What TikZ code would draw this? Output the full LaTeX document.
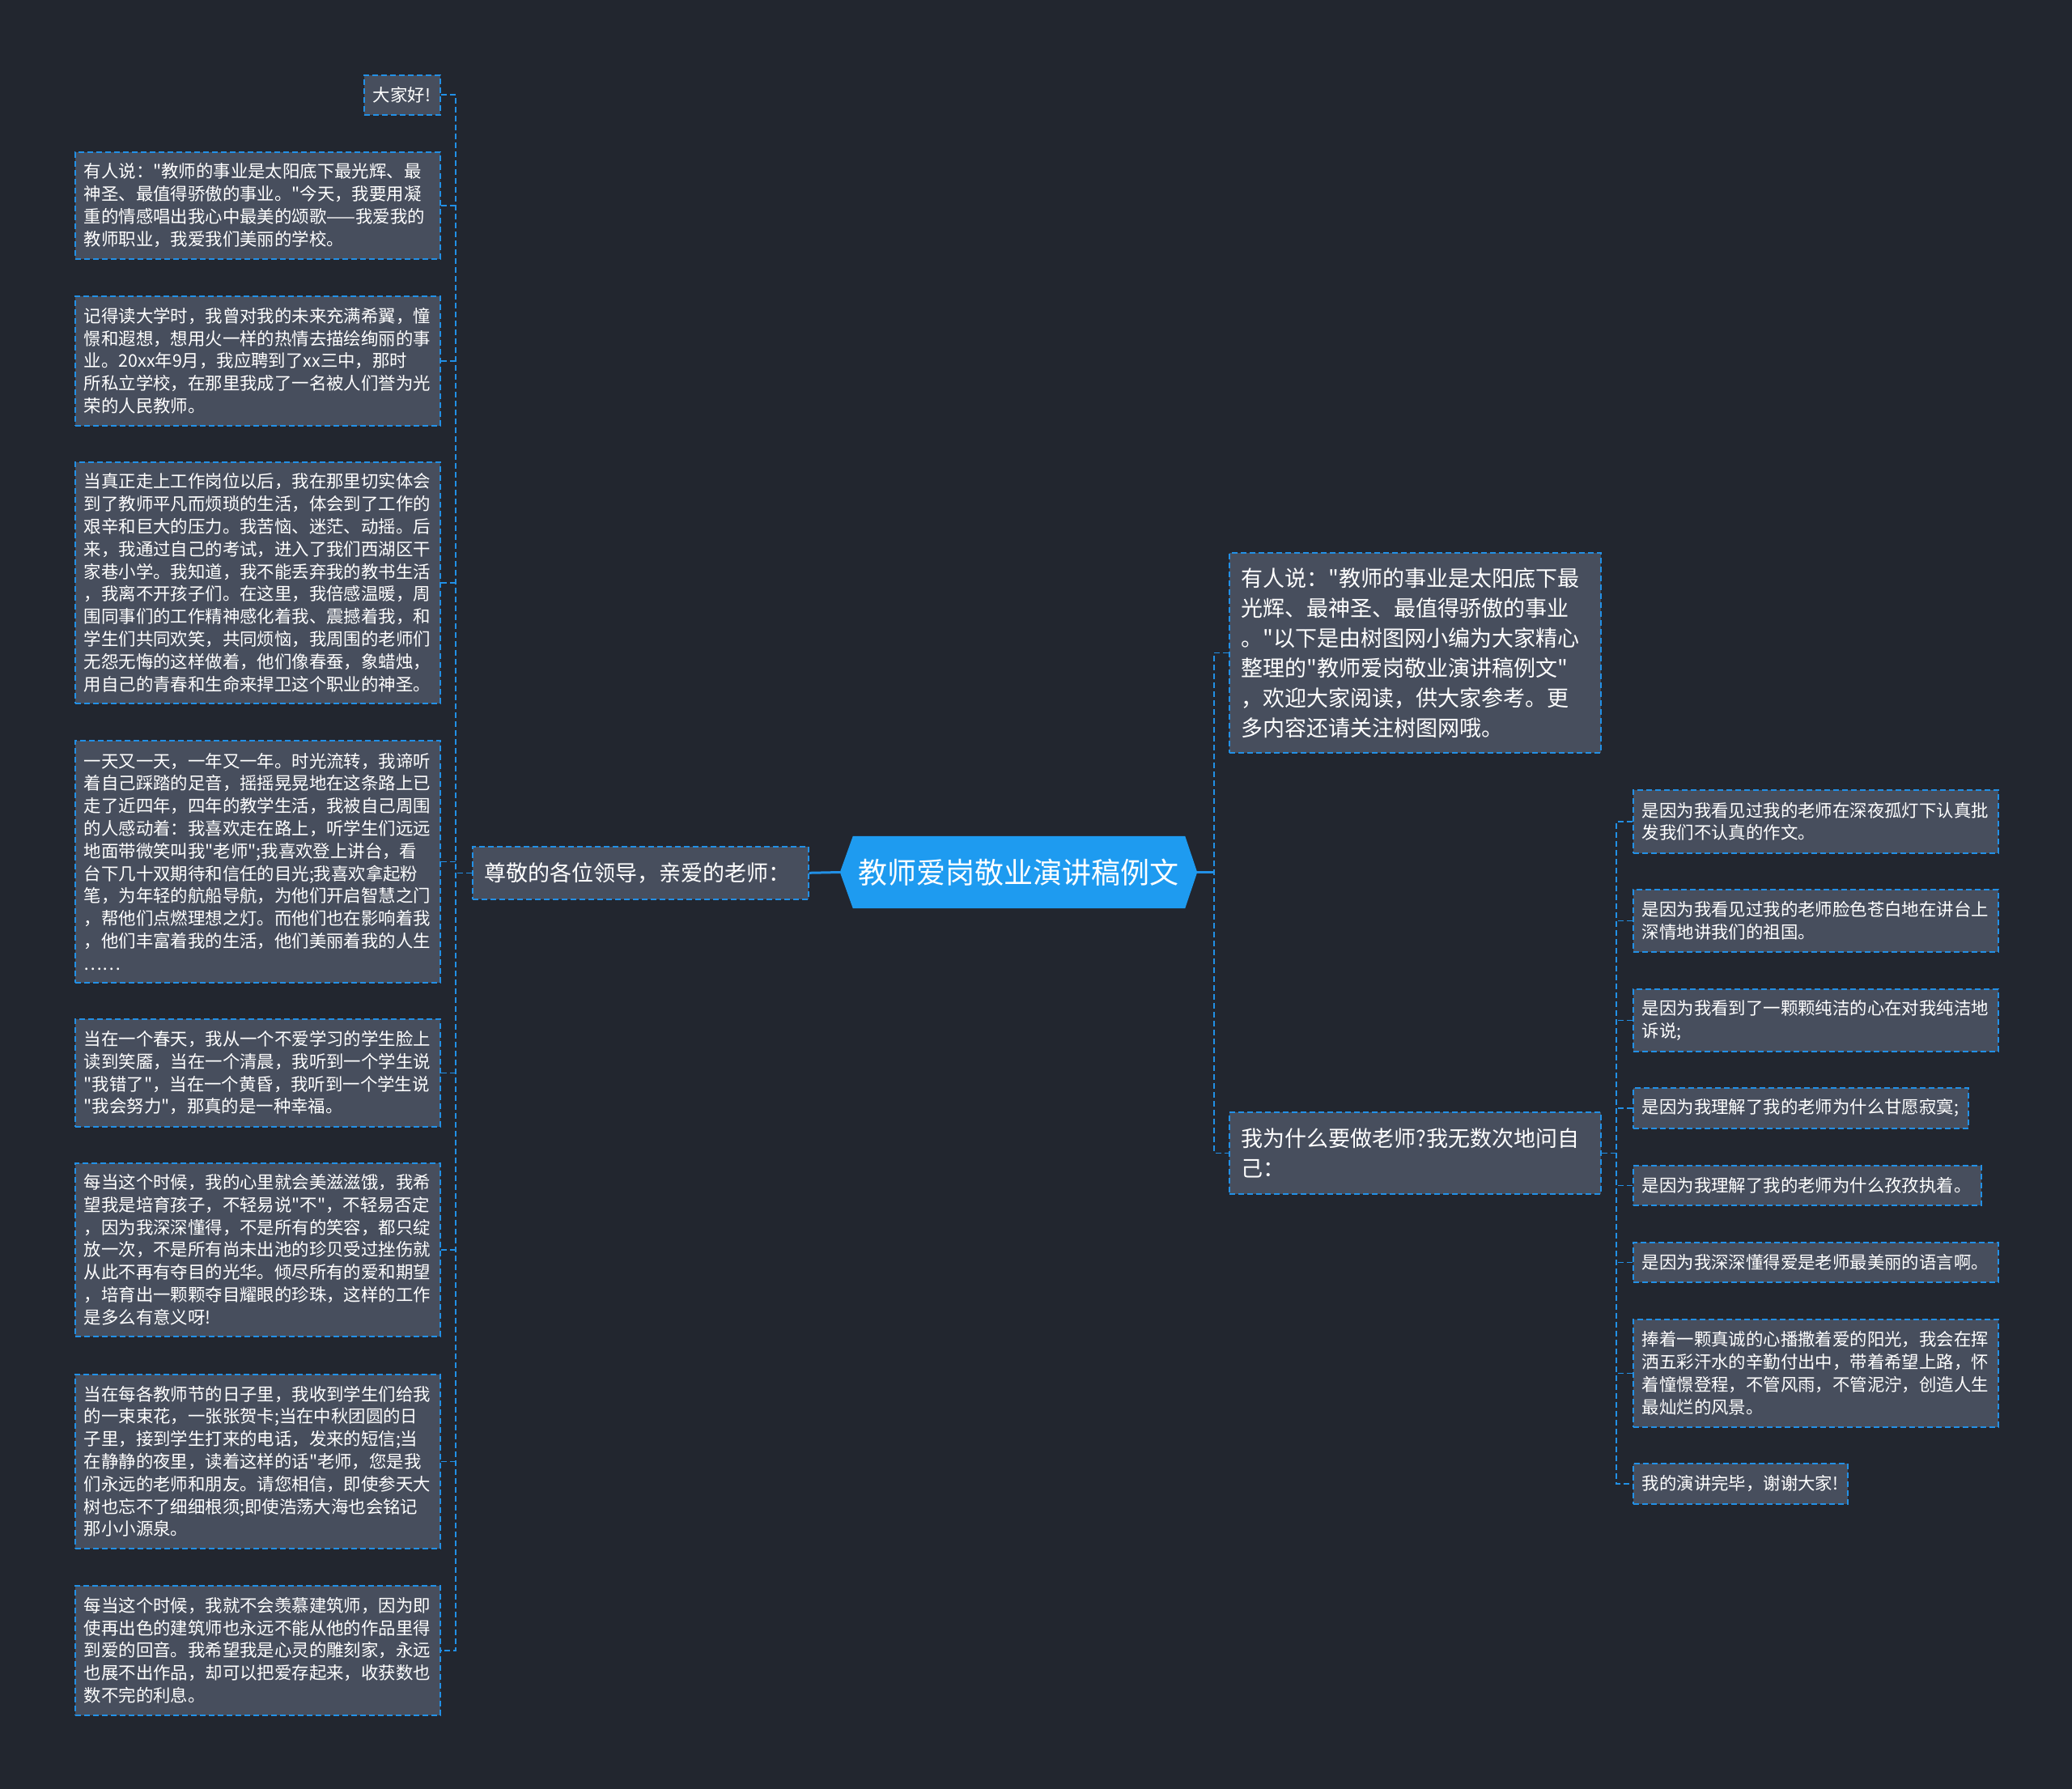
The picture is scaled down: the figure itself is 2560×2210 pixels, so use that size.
\documentclass[tikz,border=0pt]{standalone}
\usepackage{fontspec}
\newfontfamily\cjk{Noto Sans CJK SC}
\usetikzlibrary{backgrounds}
\definecolor{bgc}{HTML}{22262F}
\definecolor{boxc}{HTML}{474E5D}
\definecolor{linec}{HTML}{2290E6}
\definecolor{rootc}{HTML}{1E9BF0}
\begin{document}
\begin{tikzpicture}[x=1pt,y=-1pt,
 leaf/.style={draw=linec, fill=boxc, line width=1.6pt, dash pattern=on 7pt off 4pt, text=white, anchor=north west, align=left, inner xsep=11pt, inner ysep=0pt, font=\cjk\fontsize{21.4}{27.8}\selectfont},
 lvl/.style={leaf, inner xsep=15pt, font=\cjk\fontsize{27}{37}\selectfont},
 conn/.style={draw=linec, line width=1.6pt, dash pattern=on 7pt off 4pt},
 rootline/.style={draw=linec, line width=3pt},
 rootnode/.style={text=white, minimum width=441pt, minimum height=89pt, inner sep=0pt, font=\cjk\fontsize{36}{40}\selectfont}
]
\useasboundingbox (0,0) rectangle (2560,2210);

% left leaves
\node[leaf, text width=72pt, minimum height=49pt] (L1) at (449,92) {大家好!};
\node[leaf, text width=429pt, minimum height=132pt] (L2) at (92,187) {有人说："教师的事业是太阳底下最光辉、最\\神圣、最值得骄傲的事业。"今天，我要用凝\\重的情感唱出我心中最美的颂歌——我爱我的\\教师职业，我爱我们美丽的学校。};
\node[leaf, text width=429pt, minimum height=160pt] (L3) at (92,365) {记得读大学时，我曾对我的未来充满希翼，憧\\憬和遐想，想用火一样的热情去描绘绚丽的事\\业。20xx年9月，我应聘到了xx三中，那时\\所私立学校，在那里我成了一名被人们誉为光\\荣的人民教师。};
\node[leaf, text width=429pt, minimum height=298pt] (L4) at (92,570) {当真正走上工作岗位以后，我在那里切实体会\\到了教师平凡而烦琐的生活，体会到了工作的\\艰辛和巨大的压力。我苦恼、迷茫、动摇。后\\来，我通过自己的考试，进入了我们西湖区干\\家巷小学。我知道，我不能丢弃我的教书生活\\，我离不开孩子们。在这里，我倍感温暖，周\\围同事们的工作精神感化着我、震撼着我，和\\学生们共同欢笑，共同烦恼，我周围的老师们\\无怨无悔的这样做着，他们像春蚕，象蜡烛，\\用自己的青春和生命来捍卫这个职业的神圣。};
\node[leaf, text width=429pt, minimum height=299pt] (L5) at (92,914) {一天又一天，一年又一年。时光流转，我谛听\\着自己踩踏的足音，摇摇晃晃地在这条路上已\\走了近四年，四年的教学生活，我被自己周围\\的人感动着：我喜欢走在路上，听学生们远远\\地面带微笑叫我"老师";我喜欢登上讲台，看\\台下几十双期待和信任的目光;我喜欢拿起粉\\笔，为年轻的航船导航，为他们开启智慧之门\\，帮他们点燃理想之灯。而他们也在影响着我\\，他们丰富着我的生活，他们美丽着我的人生\\……};
\node[leaf, text width=429pt, minimum height=133pt] (L6) at (92,1258) {当在一个春天，我从一个不爱学习的学生脸上\\读到笑靥，当在一个清晨，我听到一个学生说\\"我错了"，当在一个黄昏，我听到一个学生说\\"我会努力"，那真的是一种幸福。};
\node[leaf, text width=429pt, minimum height=214pt] (L7) at (92,1436) {每当这个时候，我的心里就会美滋滋饿，我希\\望我是培育孩子，不轻易说"不"，不轻易否定\\，因为我深深懂得，不是所有的笑容，都只绽\\放一次，不是所有尚未出池的珍贝受过挫伤就\\从此不再有夺目的光华。倾尽所有的爱和期望\\，培育出一颗颗夺目耀眼的珍珠，这样的工作\\是多么有意义呀!};
\node[leaf, text width=429pt, minimum height=215pt] (L8) at (92,1697) {当在每各教师节的日子里，我收到学生们给我\\的一束束花，一张张贺卡;当在中秋团圆的日\\子里，接到学生打来的电话，发来的短信;当\\在静静的夜里，读着这样的话"老师，您是我\\们永远的老师和朋友。请您相信，即使参天大\\树也忘不了细细根须;即使浩荡大海也会铭记\\那小小源泉。};
\node[leaf, text width=429pt, minimum height=160pt] (L9) at (92,1958) {每当这个时候，我就不会羡慕建筑师，因为即\\使再出色的建筑师也永远不能从他的作品里得\\到爱的回音。我希望我是心灵的雕刻家，永远\\也展不出作品，却可以把爱存起来，收获数也\\数不完的利息。};

% branch left
\node[lvl, text width=385pt, minimum height=65pt] (bL) at (583,1045) {尊敬的各位领导，亲爱的老师：};

% root
\node[rootnode] (root) at (1258.5,1077.5) {教师爱岗敬业演讲稿例文};

% right level 1
\node[lvl, text width=429pt, minimum height=247pt] (R1) at (1518,682) {有人说："教师的事业是太阳底下最\\光辉、最神圣、最值得骄傲的事业\\。"以下是由树图网小编为大家精心\\整理的"教师爱岗敬业演讲稿例文"\\，欢迎大家阅读，供大家参考。更\\多内容还请关注树图网哦。};
\node[lvl, text width=429pt, minimum height=101pt] (R2) at (1518,1373) {我为什么要做老师?我无数次地问自\\己：};

% right leaves
\node[leaf, text width=429pt, minimum height=78pt] (C1) at (2017,975) {是因为我看见过我的老师在深夜孤灯下认真批\\发我们不认真的作文。};
\node[leaf, text width=429pt, minimum height=77pt] (C2) at (2017,1098) {是因为我看见过我的老师脸色苍白地在讲台上\\深情地讲我们的祖国。};
\node[leaf, text width=429pt, minimum height=77pt] (C3) at (2017,1221) {是因为我看到了一颗颗纯洁的心在对我纯洁地\\诉说;};
\node[leaf, text width=392pt, minimum height=50pt] (C4) at (2017,1343) {是因为我理解了我的老师为什么甘愿寂寞;};
\node[leaf, text width=408pt, minimum height=49pt] (C5) at (2017,1439) {是因为我理解了我的老师为什么孜孜执着。};
\node[leaf, text width=429pt, minimum height=49pt] (C6) at (2017,1534) {是因为我深深懂得爱是老师最美丽的语言啊。};
\node[leaf, text width=429pt, minimum height=133pt] (C7) at (2017,1629) {捧着一颗真诚的心播撒着爱的阳光，我会在挥\\洒五彩汗水的辛勤付出中，带着希望上路，怀\\着憧憬登程，不管风雨，不管泥泞，创造人生\\最灿烂的风景。};
\node[leaf, text width=243pt, minimum height=50pt] (C8) at (2017,1807) {我的演讲完毕，谢谢大家!};

% trunks
\coordinate (lx) at (563,0);
\coordinate (rx) at (1500,0);
\coordinate (cx) at (1997,0);

% left connectors
\draw[conn] (L1.east) -- (L1.east -| lx) -- (L9.east -| lx) -- (L9.east);
\foreach \k in {L2,L3,L4,L5,L6,L7,L8} {\draw[conn] (\k.east) -- (\k.east -| lx);}
\draw[conn] (bL.west) -- (bL.west -| lx);
\draw[rootline] (root.west) -- (bL.east);

% right connectors
\draw[rootline] (root.east) -- (root.east -| rx);
\draw[conn] (R1.west) -- (R1.west -| rx) -- (R2.west -| rx) -- (R2.west);
\draw[conn] (R2.east) -- (R2.east -| cx);
\draw[conn] (C1.west) -- (C1.west -| cx) -- (C8.west -| cx) -- (C8.west);
\foreach \k in {C2,C3,C4,C5,C6,C7} {\draw[conn] (\k.west) -- (\k.west -| cx);}

\begin{scope}[on background layer]
\fill[bgc] (0,0) rectangle (2560,2210);
\fill[rootc] (root.west) -- ([xshift=16pt]root.north west) -- ([xshift=-15pt]root.north east) -- (root.east) -- ([xshift=-15pt]root.south east) -- ([xshift=16pt]root.south west) -- cycle;
\end{scope}
\end{tikzpicture}
\end{document}
